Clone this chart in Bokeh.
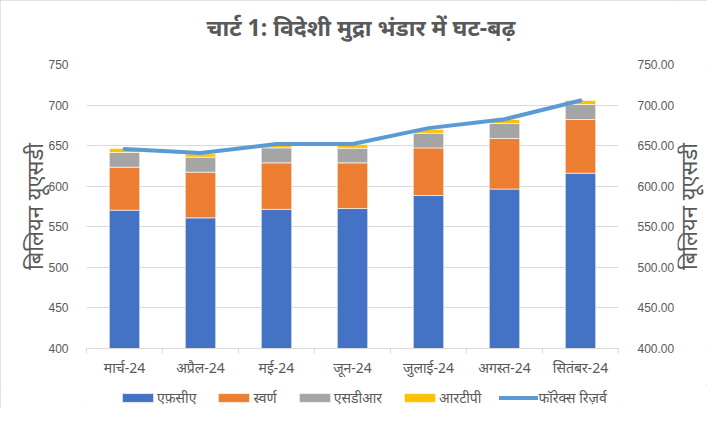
import math
from bokeh.plotting import figure
from bokeh.layouts import column, row
from bokeh.models import (Range1d, LinearAxis, FixedTicker, Legend, LegendItem, Title, Label,
                          NumeralTickFormatter, ColumnDataSource)
from bokeh.embed import file_html
from bokeh.resources import INLINE

# ---- data ----
months = ["मार्च-24", "अप्रैल-24", "मई-24", "जून-24", "जुलाई-24", "अगस्त-24", "सितंबर-24"]
fca = [570.5, 561.0, 571.5, 572.5, 588.5, 596.5, 616.0]
gold = [52.9, 56.3, 57.3, 56.3, 58.7, 62.3, 66.2]
sdr = [18.1, 18.5, 18.5, 18.0, 18.1, 18.5, 18.5]
rtp = [4.9, 4.1, 4.4, 4.5, 4.5, 4.9, 4.9]
reserves = [646.0, 641.0, 652.0, 652.0, 671.6, 682.5, 705.6]
series_names = ["एफ़सीए", "स्वर्ण", "एसडीआर", "आरटीपी"]
line_name = "फॉरेक्स रिज़र्व"
y_ticks = [400, 450, 500, 550, 600, 650, 700, 750]
title_text = "चार्ट 1: विदेशी मुद्रा भंडार में घट-बढ़"
axis_title = "बिलियन यूएसडी"

# ---- styles ----
colors = ["#4472c4", "#ed7d31", "#a5a5a5", "#ffc000"]
line_color = "#5b9bd5"
text_color = "#595959"
grid_color = "#d9d9d9"
FONT = "Noto Sans"
NUM_FONT = "Liberation Sans"
stack_cols = ["fca", "gold", "sdr", "rtp"]

x = [i + 0.5 for i in range(len(months))]
src = ColumnDataSource(dict(x=x, fca=fca, gold=gold, sdr=sdr, rtp=rtp, res=reserves))

W = 707
SIDE_W = 30
MAIN_H = 384
p = figure(width=W - SIDE_W, height=MAIN_H, output_backend="svg", toolbar_location=None,
           x_range=Range1d(0, len(months)), y_range=Range1d(y_ticks[0], y_ticks[-1]),
           min_border_left=86, min_border_right=58, min_border_top=64, min_border_bottom=36)
p.extra_y_ranges = {"right": Range1d(y_ticks[0], y_ticks[-1])}
p.outline_line_color = None
p.background_fill_color = "white"
p.border_fill_color = "white"

# title (a blank spacer title sits between it and the plot frame)
spacer = Title(text=" ", text_font_size="1px", standoff=18)
p.add_layout(spacer, "above")
p.title.text = title_text
p.title.align = "left"
p.title.offset = 120
p.title.vertical_align = "middle"
p.title.text_font = FONT
p.title.text_font_size = "23px"
p.title.text_font_style = "bold"
p.title.text_color = text_color
p.title.standoff = 0

# bars + line
bar_kw = dict(x="x", width=0.4, fill_color=colors, line_color="white", line_width=0.6)
p.vbar_stack(stack_cols, source=src, **bar_kw)
line_kw = dict(line_color=line_color, line_width=4, line_cap="round", line_join="round")
p.line("x", "res", source=src, y_range_name="right", **line_kw)

# grid
p.xgrid.visible = False
p.ygrid.grid_line_color = grid_color
p.ygrid.ticker = FixedTicker(ticks=y_ticks)

# x axis
xa = p.xaxis[0]
xa.ticker = FixedTicker(ticks=x, minor_ticks=list(range(len(months) + 1)))
xa.major_label_overrides = {xi: m for xi, m in zip(x, months)}
xa.major_tick_line_color = None
xa.major_tick_in = 0
xa.major_tick_out = 5
xa.minor_tick_line_color = grid_color
xa.minor_tick_in = 0
xa.minor_tick_out = 5
xa.axis_line_color = grid_color
xa.major_label_text_font = FONT
xa.major_label_text_font_size = "14px"
xa.major_label_text_color = text_color
xa.major_label_standoff = 4

# left axis
ya = p.yaxis[0]
ya.ticker = FixedTicker(ticks=y_ticks)
ya.axis_line_color = None
ya.major_tick_line_color = None
ya.minor_tick_line_color = None
ya.major_label_text_font = NUM_FONT
ya.major_label_text_font_size = "12px"
ya.major_label_text_color = text_color
ya.major_label_standoff = 12
ya.axis_label = axis_title
ya.axis_label_text_font = FONT
ya.axis_label_text_font_size = "22px"
ya.axis_label_text_font_style = "normal"
ya.axis_label_text_color = text_color
ya.axis_label_standoff = -4

# right axis (tick labels)
ra = LinearAxis(y_range_name="right", ticker=FixedTicker(ticks=y_ticks),
                formatter=NumeralTickFormatter(format="0.00"))
ra.axis_line_color = None
ra.major_tick_line_color = None
ra.minor_tick_line_color = None
ra.major_label_text_font = NUM_FONT
ra.major_label_text_font_size = "12px"
ra.major_label_text_color = text_color
ra.major_label_standoff = 13
p.add_layout(ra, "right")

# ---- right axis title: narrow strip beside the chart, text reads bottom-to-top ----
side = figure(width=SIDE_W, height=MAIN_H, output_backend="svg", toolbar_location=None,
              x_range=Range1d(0, SIDE_W), y_range=Range1d(0, 1),
              min_border_left=0, min_border_right=0, min_border_top=64, min_border_bottom=36,
              x_axis_location=None, y_axis_location=None, title=None)
side.outline_line_color = None
side.xgrid.visible = False
side.ygrid.visible = False
side.border_fill_color = "white"
side.add_layout(Label(x=10.5, y=0.5, text=axis_title, angle=math.pi / 2,
                      text_align="center", text_baseline="middle",
                      text_font=FONT, text_font_size="22px", text_color=text_color))

# ---- legend strip (separate small figure under the chart) ----
lg = figure(width=W, height=24, output_backend="svg", toolbar_location=None,
            x_range=Range1d(0, 1), y_range=Range1d(0, 1),
            min_border_left=86, min_border_right=88, min_border_top=0, min_border_bottom=0,
            x_axis_location=None, y_axis_location=None, title=None)
lg.outline_line_color = None
lg.xgrid.visible = False
lg.ygrid.visible = False
lg_bars = lg.vbar_stack(stack_cols, source=src, **bar_kw)
lg_line = lg.line("x", "res", source=src, **line_kw)
for r in lg_bars + [lg_line]:
    r.visible = False

items = [LegendItem(label=n, renderers=[r]) for n, r in zip(series_names, lg_bars)]
items.append(LegendItem(label=line_name, renderers=[lg_line]))
legend = Legend(items=items, orientation="horizontal", location=(32, 1),
                glyph_width=39, glyph_height=11, label_standoff=0, spacing=18,
                label_text_font=FONT, label_text_font_size="14px",
                label_text_color=text_color, border_line_color=None,
                background_fill_alpha=0, padding=0, margin=0)
lg.add_layout(legend, "center")

layout = column(row(p, side, spacing=0), lg, spacing=0)
layout.styles = {"outline": "1px solid #d9d9d9", "outline-offset": "-1px"}
open("out.html", "w").write(file_html(layout, INLINE))
